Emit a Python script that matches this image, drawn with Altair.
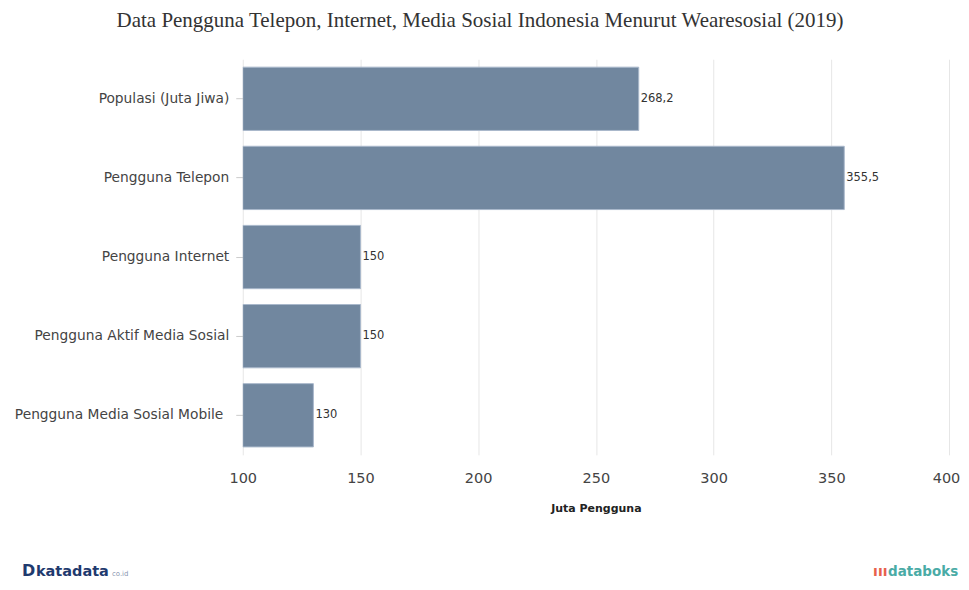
import altair as alt
import pandas as pd

categories = [
    "Populasi (Juta Jiwa)",
    "Pengguna Telepon",
    "Pengguna Internet",
    "Pengguna Aktif Media Sosial",
    "Pengguna Media Sosial Mobile ",
]
values = [268.2, 355.5, 150, 150, 130]
value_labels = ["268,2", "355,5", "150", "150", "130"]
x_ticks = [100, 150, 200, 250, 300, 350, 400]

title_text = "Data Pengguna Telepon, Internet, Media Sosial Indonesia Menurut Wearesosial (2019)"
x_title = "Juta Pengguna"

df = pd.DataFrame({"kategori": categories, "nilai": values, "label": value_labels})

SANS = "DejaVu Sans"

y_enc = alt.Y(
    "kategori:N",
    sort=categories,
    title=None,
    scale=alt.Scale(paddingInner=0.2, paddingOuter=0.1),
    axis=alt.Axis(
        labelFont=SANS,
        labelFontSize=13.8,
        labelColor="#444444",
        labelPadding=alt.condition(
            "datum.value == 'Pengguna Media Sosial Mobile '", alt.value(13), alt.value(7)
        ),
        labelLimit=0,
        tickColor="#cccccc",
        tickSize=7,
        domain=False,
        grid=False,
    ),
)
x_scale = alt.Scale(domain=[100, 400], nice=False, zero=False)

bars = alt.Chart(df).mark_bar(
    color="#71879f", stroke="#a9b8cb", strokeWidth=1, clip=True
).encode(
    x=alt.X(
        "nilai:Q",
        scale=x_scale,
        title=x_title,
        axis=alt.Axis(
            values=x_ticks,
            labelFont=SANS,
            labelFontSize=14.5,
            labelColor="#444444",
            labelPadding=17,
            labelFlush=False,
            labelOffset=alt.condition(
                "datum.value == 400", alt.value(-3), alt.value(0)
            ),
            ticks=False,
            domain=False,
            gridColor="#e6e6e6",
            titleFont=SANS,
            titleFontSize=11,
            titleFontWeight="bold",
            titleColor="#222222",
            titlePadding=17,
        ),
    ),
    x2=alt.datum(100),
    y=y_enc,
)

texts = alt.Chart(df).mark_text(
    align="left", baseline="middle", dx=2, font=SANS, fontSize=11.5, color="#333333"
).encode(
    x=alt.X("nilai:Q", scale=x_scale),
    y=alt.Y("kategori:N", sort=categories),
    text="label:N",
)

logo_df = pd.DataFrame({"d": [0]})
kd_D = alt.Chart(logo_df).mark_text(
    align="left", baseline="alphabetic", font=SANS, fontSize=16, fontWeight="bold", color="#1f3a6e"
).encode(x=alt.value(-221), y=alt.value(517), text=alt.value("D"))
kd_word = alt.Chart(logo_df).mark_text(
    align="left", baseline="alphabetic", font=SANS, fontSize=14.5, fontWeight="bold", color="#1f3a6e"
).encode(x=alt.value(-207), y=alt.value(517), text=alt.value("katadata"))
kd_co = alt.Chart(logo_df).mark_text(
    align="left", baseline="alphabetic", font=SANS, fontSize=7, color="#8a97b0"
).encode(x=alt.value(-131), y=alt.value(517), text=alt.value("co.id"))
db_icon = alt.Chart(logo_df).mark_text(
    align="left", baseline="alphabetic", font=SANS, fontSize=14, fontWeight="bold", color="#e8604c"
).encode(x=alt.value(631), y=alt.value(517), text=alt.value("\u0131\u0131\u0131"))
db_word = alt.Chart(logo_df).mark_text(
    align="left", baseline="alphabetic", font=SANS, fontSize=13.5, fontWeight="bold", color="#4aaba6"
).encode(x=alt.value(646), y=alt.value(517), text=alt.value("databoks"))

chart = (
    alt.layer(bars, texts, kd_D, kd_word, kd_co, db_icon, db_word)
    .properties(
        width=707,
        height=396,
        padding={"left": 235, "top": 51, "right": 12, "bottom": 127},
        autosize=alt.AutoSizeParams(type="none"),
        title=alt.TitleParams(
            title_text,
            font="Liberation Serif",
            fontSize=21,
            fontWeight="normal",
            color="#333333",
            anchor="middle",
            frame="group",
            dx=-116,
            offset=28,
        ),
    )
    .configure(background="white")
    .configure_view(stroke="transparent", strokeWidth=0)
)

chart.save("out.html", embed_options={"renderer": "svg", "actions": False})
